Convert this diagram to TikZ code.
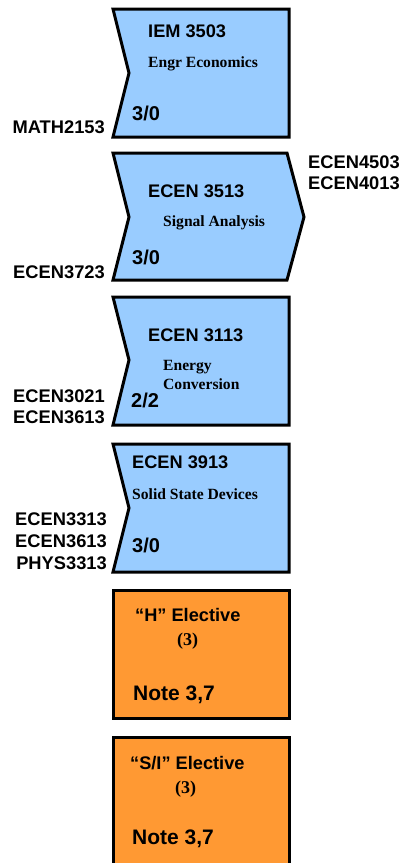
\documentclass[tikz,border=0pt]{standalone}
\usepackage{fontspec}
\setmainfont{Liberation Serif}
\setsansfont{Liberation Sans}
\definecolor{boxblue}{HTML}{99CCFF}
\definecolor{boxorange}{HTML}{FF9933}
\tikzset{
  course/.style={draw=black, line width=3pt, line join=miter, fill=boxblue},
  elective/.style={draw=black, line width=3pt, line join=miter, fill=boxorange},
  lbl/.style={inner sep=0pt, font=\sffamily\bfseries\fontsize{18.3}{19}\selectfont},
  num/.style={inner sep=0pt, anchor=base west, font=\sffamily\bfseries\fontsize{18.2}{20}\selectfont},
  desc/.style={inner sep=0pt, anchor=base west, font=\rmfamily\bfseries\fontsize{15.6}{19}\selectfont, align=left},
  cred/.style={inner sep=0pt, anchor=base west, font=\sffamily\bfseries\fontsize{20}{22}\selectfont},
  paren/.style={inner sep=0pt, anchor=base west, font=\rmfamily\bfseries\fontsize{18}{19}\selectfont},
  note/.style={inner sep=0pt, anchor=base west, font=\sffamily\bfseries\fontsize{21}{22}\selectfont},
}
\begin{document}
\begin{tikzpicture}[x=1pt,y=-1pt]
\useasboundingbox (0,0) rectangle (403,863);
\clip (0,0) rectangle (403,863);
% Box 1
\draw[course] (113,9) -- (289,9) -- (289,137) -- (113,137) -- (129,73) -- cycle;
\node[num] (n1) at (148,37) {IEM 3503};
\node[desc] (d1) at (148,67) {Engr Economics};
\node[cred] (c1) at (132,120) {3/0};
\node[lbl, anchor=base east] (p1) at (105,133) {MATH2153};
% Box 2
\draw[course] (113,153) -- (287,153) -- (304,217) -- (287,280) -- (113,280) -- (129,217) -- cycle;
\node[num] (n2) at (148,197) {ECEN 3513};
\node[desc] (d2) at (163,226) {Signal Analysis};
\node[cred] (c2) at (132,264) {3/0};
\node[lbl, anchor=base east] (p2) at (105,278) {ECEN3723};
\node[lbl, anchor=base west] (s2a) at (308,168) {ECEN4503};
\node[lbl, anchor=base west] (s2b) at (308,189) {ECEN4013};
% Box 3
\draw[course] (113,297) -- (289,297) -- (289,425) -- (113,425) -- (129,360) -- cycle;
\node[num] (n3) at (148,341) {ECEN 3113};
\node[desc] (d3a) at (163,370) {Energy};
\node[desc] (d3b) at (163,389) {Conversion};
\node[cred] (c3) at (131,407) {2/2};
\node[lbl, anchor=base east] (p3a) at (105,402) {ECEN3021};
\node[lbl, anchor=base east] (p3b) at (105,423) {ECEN3613};
% Box 4
\draw[course] (113,444) -- (289,444) -- (289,572) -- (113,572) -- (129,508) -- cycle;
\node[num] (n4) at (132,468) {ECEN 3913};
\node[desc] (d4) at (132,499) {Solid State Devices};
\node[cred] (c4) at (132,552) {3/0};
\node[lbl, anchor=base east] (p4a) at (107,525) {ECEN3313};
\node[lbl, anchor=base east] (p4b) at (107,547) {ECEN3613};
\node[lbl, anchor=base east] (p4c) at (107,569) {PHYS3313};
% Box 5
\draw[elective] (113,590) rectangle (289,718);
\node[num] (n5) at (135,621) {“H” Elective};
\node[paren] (q5) at (177,645) {(3)};
\node[note] (t5) at (133,700) {Note 3,7};
% Box 6
\draw[elective] (113,737) rectangle (289,880);
\node[num] (n6) at (130,769) {“S/I” Elective};
\node[paren] (q6) at (175,793) {(3)};
\node[note] (t6) at (132,844) {Note 3,7};
\end{tikzpicture}
\end{document}
